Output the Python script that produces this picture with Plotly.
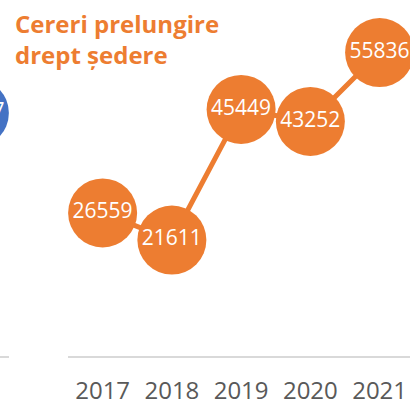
import plotly.graph_objects as go

years = ["2017", "2018", "2019", "2020", "2021"]
cereri = [26559, 21611, 45449, 43252, 55836]
# right-most point of the neighbouring (cut-off) panel; only its last digit is visible
left_years = ["2021"]
left_vals = [44797]

title_text = "<b>Cereri prelungire<br>drept ședere</b>"

ORANGE = "#ED7D31"
BLUE = "#4472C4"
GRID = "#D9D9D9"
FONT = "Open Sans, Noto Sans, sans-serif"

fig = go.Figure()

fig.add_trace(go.Scatter(
    x=years, y=cereri, mode="lines+markers+text",
    line=dict(color=ORANGE, width=5),
    marker=dict(color=ORANGE, size=69, line=dict(width=0)),
    text=[str(v) for v in cereri], textposition="middle center",
    textfont=dict(color="white", size=21, family=FONT),
    cliponaxis=False, hoverinfo="skip", xaxis="x", yaxis="y",
))

# neighbouring panel: clipped to its own (narrow) plot area
fig.add_trace(go.Scatter(
    x=left_years, y=left_vals, mode="markers+text",
    marker=dict(color=BLUE, size=69, line=dict(width=0)),
    text=[str(v) for v in left_vals], textposition="middle center",
    textfont=dict(color="white", size=21, family=FONT),
    cliponaxis=True, hoverinfo="skip", xaxis="x2", yaxis="y2",
))

yrange = [440, 65425]

fig.update_layout(
    width=410, height=409,
    margin=dict(l=0, r=0, t=0, b=53),
    paper_bgcolor="white", plot_bgcolor="white",
    showlegend=False,
    font=dict(family=FONT),
    annotations=[dict(
        text=title_text, xref="paper", yref="paper",
        x=13/410, y=1, xanchor="left", yanchor="top", yshift=-5,
        align="left", showarrow=False,
        font=dict(color=ORANGE, size=24, family=FONT),
    )],
    xaxis=dict(
        domain=[68/410, 1], type="category", categoryorder="array", categoryarray=years,
        range=[-0.5, 4.439], showgrid=False, zeroline=False,
        showline=True, linecolor=GRID, linewidth=2, ticks="",
        tickfont=dict(size=24, color="#595959", family=FONT),
        ticklabelstandoff=12, fixedrange=True,
    ),
    yaxis=dict(
        domain=[0, 1], range=yrange, visible=False, fixedrange=True,
    ),
    xaxis2=dict(
        domain=[0, 9/410], type="category", categoryorder="array", categoryarray=years,
        range=[4.37, 4.5], showgrid=False, zeroline=False,
        showline=True, linecolor=GRID, linewidth=2, ticks="",
        showticklabels=False, anchor="y2", fixedrange=True,
    ),
    yaxis2=dict(
        domain=[0, 1], range=yrange, visible=False, anchor="x2", fixedrange=True,
    ),
)

fig.write_html("out.html", config={"displayModeBar": False},
               post_script="document.body.style.margin='0';")
